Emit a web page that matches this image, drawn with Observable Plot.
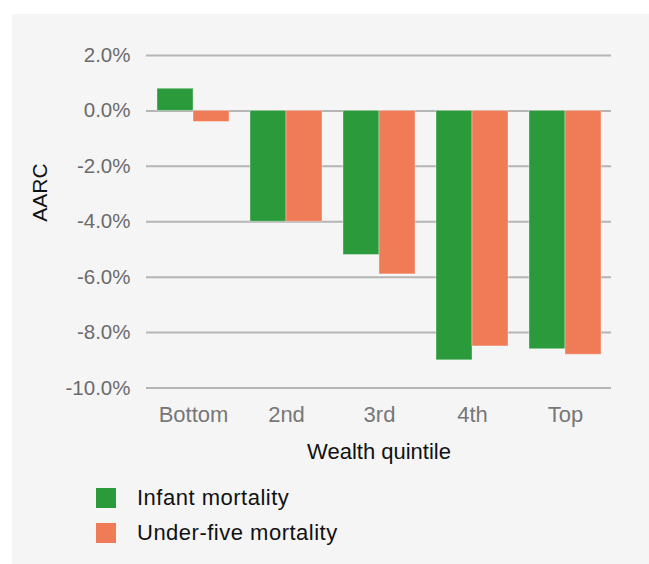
<!DOCTYPE html>
<html>
<head>
<meta charset="utf-8">
<script src="https://cdn.jsdelivr.net/npm/d3@7"></script>
<script src="https://cdn.jsdelivr.net/npm/@observablehq/plot@0.6"></script>
<style>
  html, body { margin: 0; padding: 0; background: #ffffff; }
  #wrap { position: relative; width: 649px; height: 564px; background: #ffffff; overflow: hidden; }
  #panel { position: absolute; left: 12px; top: 14px; width: 637px; height: 550px; background: #f5f5f5;
           font-family: "Liberation Sans", Arial, sans-serif; }
  #legend { position: absolute; left: 84px; top: 466px; }
  .row { display: flex; align-items: center; height: 35px; font-size: 22px; letter-spacing: 0.5px; color: #111; }
  .sw { width: 20px; height: 20px; margin-right: 21px; }
</style>
</head>
<body>
<div id="wrap"><div id="panel"><div id="chart"></div><div id="legend"></div></div></div>
<script>
const quintiles = ["Bottom", "2nd", "3rd", "4th", "Top"];
const infantMortality = [0.8, -4.0, -5.2, -9.0, -8.6];
const underFiveMortality = [-0.4, -4.0, -5.9, -8.5, -8.8];
const seriesNames = ["Infant mortality", "Under-five mortality"];
const seriesColors = ["#2a9a3b", "#f07c57"];
const yTicks = [2, 0, -2, -4, -6, -8, -10];

const data = [];
quintiles.forEach((q, i) => {
  data.push({quintile: q, series: seriesNames[0], value: infantMortality[i]});
  data.push({quintile: q, series: seriesNames[1], value: underFiveMortality[i]});
});

const W = 637, H = 460, ML = 134, MR = 38, MT = 41, MB = 86.5;
const padIn = 0.226, padOut = 0.113;
const step = (W - ML - MR) / (quintiles.length - padIn + 2 * padOut);
const half = step * (1 - padIn) / 2;

const chart = Plot.plot({
  width: W, height: H,
  marginLeft: ML, marginRight: MR, marginTop: MT, marginBottom: MB,
  style: {background: "transparent", fontFamily: "'Liberation Sans', Arial, sans-serif", fontSize: "20.5px", color: "#6b6b6b"},
  x: {domain: quintiles, paddingInner: padIn, paddingOuter: padOut, label: null},
  y: {domain: [-10, 2], label: null},
  color: {domain: seriesNames, range: seriesColors},
  marks: [
    Plot.ruleY(yTicks, {stroke: "#b5b5b5", strokeWidth: 2}),
    Plot.barY(data.filter(d => d.series === seriesNames[0]), {x: "quintile", y: "value", fill: "series", insetRight: half, stroke: "#ffffff", strokeOpacity: 0.35, strokeWidth: 1}),
    Plot.barY(data.filter(d => d.series === seriesNames[1]), {x: "quintile", y: "value", fill: "series", insetLeft: half, stroke: "#ffffff", strokeOpacity: 0.35, strokeWidth: 1}),
    Plot.axisY(yTicks, {tickSize: 0, tickPadding: 16, tickFormat: d => d.toFixed(1) + "%", label: null, fontSize: 20.5}),
    Plot.axisX({tickSize: 0, tickPadding: 18, label: null, fontSize: 22, fill: "#777", style: {letterSpacing: "0.6px"}}),
    Plot.text(["Wealth quintile"], {frameAnchor: "bottom", dy: 70.5, fill: "#111", fontSize: 22, style: {letterSpacing: "0.5px"}}),
    Plot.text(["AARC"], {frameAnchor: "left", dx: -106, rotate: -90, fill: "#111", fontSize: 21})
  ]
});
document.getElementById("chart").appendChild(chart);

const legend = document.getElementById("legend");
seriesNames.forEach((name, i) => {
  const row = document.createElement("div");
  row.className = "row";
  const sw = document.createElement("div");
  sw.className = "sw";
  sw.style.background = seriesColors[i];
  const label = document.createElement("span");
  label.textContent = name;
  row.appendChild(sw);
  row.appendChild(label);
  legend.appendChild(row);
});
</script>
</body>
</html>
